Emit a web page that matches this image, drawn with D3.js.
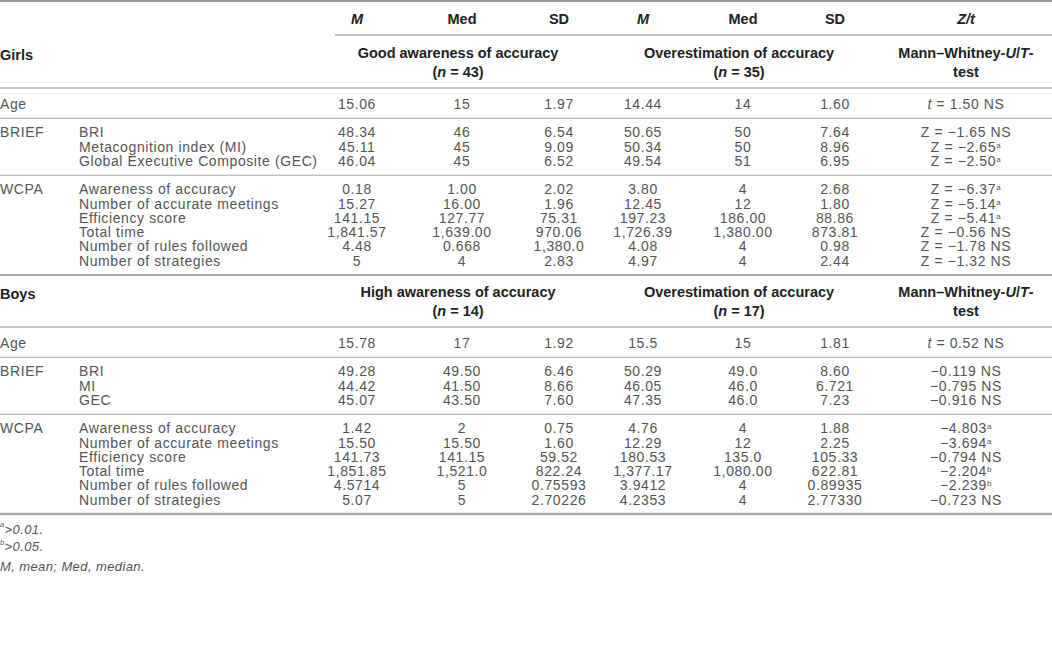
<!DOCTYPE html>
<html>
<head>
<meta charset="utf-8">
<script src="https://cdn.jsdelivr.net/npm/d3@7"></script>
<style>
  body { margin: 0; background: #fff; }
  svg text { font-family: "Liberation Sans", Arial, sans-serif; }
</style>
</head>
<body>
<div id="chart"></div>
<script>
// column headers
const columns = ["M", "Med", "SD", "M2", "Med2", "SD2", "test"];
const headerLabels = ["M", "Med", "SD", "M", "Med", "SD", "Z/t"];
const headerItalic = [true, false, false, true, false, false, true];

// row categories
const rowSections = ["Age", "BRIEF", "", "", "WCPA", "", "", "", "", ""];
const girlsMeasures = ["", "BRI", "Metacognition index (MI)", "Global Executive Composite (GEC)",
  "Awareness of accuracy", "Number of accurate meetings", "Efficiency score", "Total time",
  "Number of rules followed", "Number of strategies"];
const boysMeasures = ["", "BRI", "MI", "GEC",
  "Awareness of accuracy", "Number of accurate meetings", "Efficiency score", "Total time",
  "Number of rules followed", "Number of strategies"];
const rowSlots = [0, 2, 3, 4, 6, 7, 8, 9, 10, 11];
const ruleSlots = [1, 5];

// girls
const girlsGroups = ["Good awareness of accuracy", "Overestimation of accuracy"];
const girlsN = [43, 35];
const girlsGoodM = ["15.06", "48.34", "45.11", "46.04", "0.18", "15.27", "141.15", "1,841.57", "4.48", "5"];
const girlsGoodMed = ["15", "46", "45", "45", "1.00", "16.00", "127.77", "1,639.00", "0.668", "4"];
const girlsGoodSD = ["1.97", "6.54", "9.09", "6.52", "2.02", "1.96", "75.31", "970.06", "1,380.0", "2.83"];
const girlsOverM = ["14.44", "50.65", "50.34", "49.54", "3.80", "12.45", "197.23", "1,726.39", "4.08", "4.97"];
const girlsOverMed = ["14", "50", "50", "51", "4", "12", "186.00", "1,380.00", "4", "4"];
const girlsOverSD = ["1.60", "7.64", "8.96", "6.95", "2.68", "1.80", "88.86", "873.81", "0.98", "2.44"];
const girlsTest = ["t = 1.50 NS", "Z = −1.65 NS", "Z = −2.65^a", "Z = −2.50^a", "Z = −6.37^a",
  "Z = −5.14^a", "Z = −5.41^a", "Z = −0.56 NS", "Z = −1.78 NS", "Z = −1.32 NS"];

// boys
const boysGroups = ["High awareness of accuracy", "Overestimation of accuracy"];
const boysN = [14, 17];
const boysHighM = ["15.78", "49.28", "44.42", "45.07", "1.42", "15.50", "141.73", "1,851.85", "4.5714", "5.07"];
const boysHighMed = ["17", "49.50", "41.50", "43.50", "2", "15.50", "141.15", "1,521.0", "5", "5"];
const boysHighSD = ["1.92", "6.46", "8.66", "7.60", "0.75", "1.60", "59.52", "822.24", "0.75593", "2.70226"];
const boysOverM = ["15.5", "50.29", "46.05", "47.35", "4.76", "12.29", "180.53", "1,377.17", "3.9412", "4.2353"];
const boysOverMed = ["15", "49.0", "46.0", "46.0", "4", "12", "135.0", "1,080.00", "4", "4"];
const boysOverSD = ["1.81", "8.60", "6.721", "7.23", "1.88", "2.25", "105.33", "622.81", "0.89935", "2.77330"];
const boysTest = ["t = 0.52 NS", "−0.119 NS", "−0.795 NS", "−0.916 NS", "−4.803^a",
  "−3.694^a", "−0.794 NS", "−2.204^b", "−2.239^b", "−0.723 NS"];

const footnotes = [["a", ">0.01."], ["b", ">0.05."], ["", "M, mean; Med, median."]];

const width = 1052, height = 657;
const textColor = "#555", headColor = "#222", ruleColor = "#b3b3b3";
const bodySize = 14, headSize = 14.5;

const svg = d3.select("#chart").append("svg")
  .attr("width", width).attr("height", height);

const x = d3.scaleOrdinal().domain(columns)
  .range([357, 462, 559, 643, 743, 835, 966]);
const groupX = [(x("M") + x("SD")) / 2, (x("M2") + x("SD2")) / 2];
const u = 14.25;
const slotY = d3.scaleLinear().domain([0, 1]).range([0, u]);

const rule = (y, x0, w, c) => svg.append("line")
  .attr("x1", x0).attr("x2", width).attr("y1", y).attr("y2", y)
  .attr("stroke", c || ruleColor).attr("stroke-width", w);

const headText = (sel) => sel.attr("dy", "0.35em")
  .attr("font-size", headSize).attr("font-weight", 700).attr("fill", headColor);

// top header
rule(1, 0, 2, "#9a9a9a");
const head = svg.append("g");
columns.forEach((c, i) => {
  head.append("text").call(headText)
    .attr("x", x(c)).attr("y", 19)
    .attr("text-anchor", "middle")
    .attr("font-style", headerItalic[i] ? "italic" : "normal")
    .text(headerLabels[i]);
});
rule(35, 335, 1.5);

function addTestText(sel, str) {
  let [main, sup] = str.split("^");
  if (main.startsWith("t ")) {
    sel.append("tspan").attr("font-style", "italic").text("t");
    main = main.slice(1);
  }
  sel.append("tspan").text(main);
  if (sup) sel.append("tspan").attr("font-size", 8).attr("dy", "-0.5em").text(sup);
}

function drawSection(top, title, groups, ns, measures, cols) {
  const g = svg.append("g");
  // group header
  g.append("text").call(headText).attr("x", 0).attr("y", top + 20).text(title);
  groups.forEach((name, i) => {
    g.append("text").call(headText).attr("x", groupX[i]).attr("y", top + 18)
      .attr("text-anchor", "middle").text(name);
    const t = g.append("text").call(headText).attr("x", groupX[i]).attr("y", top + 37)
      .attr("text-anchor", "middle");
    t.append("tspan").text("(");
    t.append("tspan").attr("font-style", "italic").text("n");
    t.append("tspan").text(" = " + ns[i] + ")");
  });
  const mw = g.append("text").call(headText).attr("x", x("test")).attr("y", top + 18)
    .attr("text-anchor", "middle");
  mw.append("tspan").text("Mann–Whitney-");
  mw.append("tspan").attr("font-style", "italic").text("U");
  mw.append("tspan").text("/");
  mw.append("tspan").attr("font-style", "italic").text("T");
  mw.append("tspan").text("-");
  g.append("text").call(headText).attr("x", x("test")).attr("y", top + 37)
    .attr("text-anchor", "middle").text("test");
  rule(top + 53, 0, 1.5);

  const A = top + 69;
  ruleSlots.forEach(s => rule(A + slotY(s), 0, 1.2, "#a8a8a8"));

  const rows = g.selectAll("g.row")
    .data(rowSlots.map((s, i) => ({ s, i })))
    .join("g").attr("class", "row")
    .attr("transform", d => `translate(0,${A + slotY(d.s)})`);

  const cellText = sel => sel.attr("dy", "0.35em").attr("font-size", bodySize)
    .attr("letter-spacing", 0.6).attr("fill", textColor);

  rows.append("text").call(cellText).attr("x", 0).text(d => rowSections[d.i]);
  rows.append("text").call(cellText).attr("x", 79).text(d => measures[d.i]);
  columns.forEach((c, ci) => {
    rows.append("text").call(cellText)
      .attr("x", x(c)).attr("text-anchor", "middle")
      .each(function (d) {
        const v = cols[ci][d.i];
        if (c === "test") addTestText(d3.select(this), v);
        else d3.select(this).text(v);
      });
  });
}

drawSection(35, "Girls", girlsGroups, girlsN, girlsMeasures,
  [girlsGoodM, girlsGoodMed, girlsGoodSD, girlsOverM, girlsOverMed, girlsOverSD, girlsTest]);
rule(35 + 69 + slotY(12), 0, 2, "#aaaaaa");
drawSection(274, "Boys", boysGroups, boysN, boysMeasures,
  [boysHighM, boysHighMed, boysHighSD, boysOverM, boysOverMed, boysOverSD, boysTest]);
rule(274 + 69 + slotY(12), 0, 2.5, "#aaaaaa");

// footnotes
const fn = svg.append("g");
footnotes.forEach(([sup, txt], i) => {
  const t = fn.append("text").attr("x", 0).attr("y", 531 + i * 17.5).attr("dy", "0.35em")
    .attr("font-size", 13).attr("letter-spacing", 0.4)
    .attr("font-style", "italic").attr("fill", textColor);
  if (sup) t.append("tspan").attr("font-size", 7.5).attr("dy", "-0.5em").text(sup);
  t.append("tspan").attr("dy", sup ? "0.5em" : null).text(txt);
});
</script>
</body>
</html>
